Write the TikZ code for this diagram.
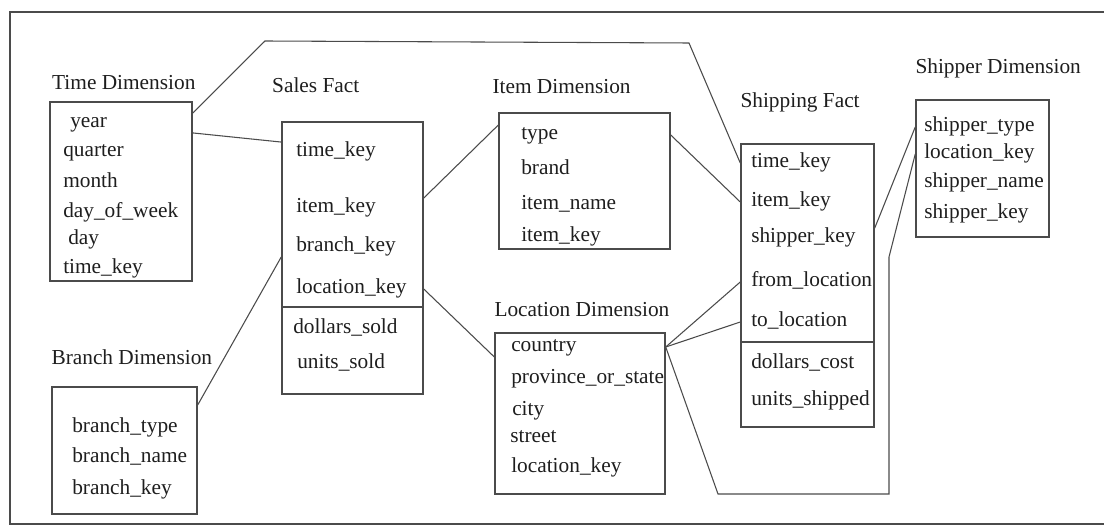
\documentclass[tikz,border=0pt]{standalone}
\usepackage{fontspec}
\setmainfont{Liberation Serif}
\usetikzlibrary{positioning, fit}
\definecolor{Encre}{RGB}{30,30,30}
\definecolor{Trait}{RGB}{75,75,75}
\tikzset{boite/.style={rectangle, draw=Trait, line width=1.1pt, inner sep=0pt}}
\tikzset{titre/.style={inner sep=0pt, text=Encre, font=\fontsize{16}{19}\selectfont,
  text height=11pt, text depth=3.5pt}}
\tikzset{champ/.style={titre, anchor=west}}
\tikzset{lien/.style={draw=Trait, line width=0.8pt}}
\tikzset{cadre/.style={draw=Trait, line width=1pt}}

\begin{document}
\begin{tikzpicture}[x=0.75pt, y=-0.75pt]
\useasboundingbox (0,0) rectangle (1104,527);
\draw[cadre] (1104,12) -- (10,12) -- (10,524) -- (1104,524);
% boites
\node[boite, fit={(50,102) (192,281)}] (tim) {};
\node[boite, fit={(282,122) (423,394)}] (sal) {};
\node[boite, fit={(499,113) (670,249)}] (itm) {};
\node[boite, fit={(741,144) (874,427)}] (shp) {};
\node[boite, fit={(916,100) (1049,237)}] (shr) {};
\node[boite, fit={(52,387) (197,514)}] (brn) {};
\node[boite, fit={(495,333) (665,494)}] (loc) {};
\draw[boite] (sal.west |- 0,307) -- (sal.east |- 0,307);
\draw[boite] (shp.west |- 0,342) -- (shp.east |- 0,342);
% titres
\node[titre, above right=5pt and 2pt of tim.north west] (ttim) {Time Dimension};
\node[titre, above right=18pt and -7pt of sal.north west] (tsal) {Sales Fact};
\node[titre, above right=10pt and -4.5pt of itm.north west] (titm) {Item Dimension};
\node[titre, above right=23pt and 0pt of shp.north west] (tshp) {Shipping Fact};
\node[titre, above right=15.5pt and 0pt of shr.north west] (tshr) {Shipper Dimension};
\node[titre, above right=12.5pt and 0pt of brn.north west] (tbrn) {Branch Dimension};
\node[titre, above right=8pt and 0pt of loc.north west] (tloc) {Location Dimension};
% champs
\node[champ] (tyear) at (70,123) {year};
\node[champ] (tquar) at (63,152) {quarter};
\node[champ] (tmon) at (63,183) {month};
\node[champ] (tdow) at (63,213) {day\_of\_week};
\node[champ] (tday) at (68,240) {day};
\node[champ] (tkey) at (63,269) {time\_key};
\node[champ] (stk) at (296,152) {time\_key};
\node[champ] (sik) at (296,208) {item\_key};
\node[champ] (sbk) at (296,247) {branch\_key};
\node[champ] (slk) at (296,289) {location\_key};
\node[champ] (sds) at (293,329) {dollars\_sold};
\node[champ] (sus) at (297,364) {units\_sold};
\node[champ] (itype) at (521,135) {type};
\node[champ] (ibrand) at (521,170) {brand};
\node[champ] (iname) at (521,205) {item\_name};
\node[champ] (ikey) at (521,237) {item\_key};
\node[champ] (ptk) at (751,163) {time\_key};
\node[champ] (pik) at (751,202) {item\_key};
\node[champ] (pshk) at (751,238) {shipper\_key};
\node[champ] (pfrom) at (751,282) {from\_location};
\node[champ] (pto) at (751,322) {to\_location};
\node[champ] (pdc) at (751,364) {dollars\_cost};
\node[champ] (pus) at (751,401) {units\_shipped};
\node[champ] (rtype) at (924,127) {shipper\_type};
\node[champ] (rloc) at (924,154) {location\_key};
\node[champ] (rname) at (924,183) {shipper\_name};
\node[champ] (rkey) at (924,214) {shipper\_key};
\node[champ] (btype) at (72,427) {branch\_type};
\node[champ] (bname) at (72,457) {branch\_name};
\node[champ] (bkey) at (72,489) {branch\_key};
\node[champ] (lcty) at (511,347) {country};
\node[champ] (lprov) at (511,379) {province\_or\_state};
\node[champ] (lcity) at (512,411) {city};
\node[champ] (lstr) at (510,437) {street};
\node[champ] (lkey) at (511,467) {location\_key};
% liens
\coordinate (c1) at (265,41);
\coordinate (c2) at (689,43);
\coordinate (k1) at (718,494);
\coordinate (k2) at (889,494);
\coordinate (k3) at (889,257);
\draw[lien] (tim.east |- tyear.north) -- (c1) -- (c2) -- (shp.west |- ptk);
\draw[lien] (tim.east |- tyear.south) -- (sal.west |- stk.north);
\draw[lien] ([yshift=-14pt]brn.north east) -- (sal.west |- sbk.south);
\draw[lien] (sal.east |- sik.north) -- (itm.west |- itype.north);
\draw[lien] (itm.east |- itype) -- (shp.west |- pik);
\draw[lien] (sal.east |- slk) -- (loc.west |- lcty.south);
\draw[lien] (loc.east |- lcty) -- (shp.west |- pfrom);
\draw[lien] (loc.east |- lcty) -- (shp.west |- pto);
\draw[lien] (loc.east |- lcty) -- (k1) -- (k2) -- (k3) -- (shr.west |- rloc);
\draw[lien] (shp.east |- pshk.north) -- (shr.west |- rtype);
\end{tikzpicture}
\end{document}
